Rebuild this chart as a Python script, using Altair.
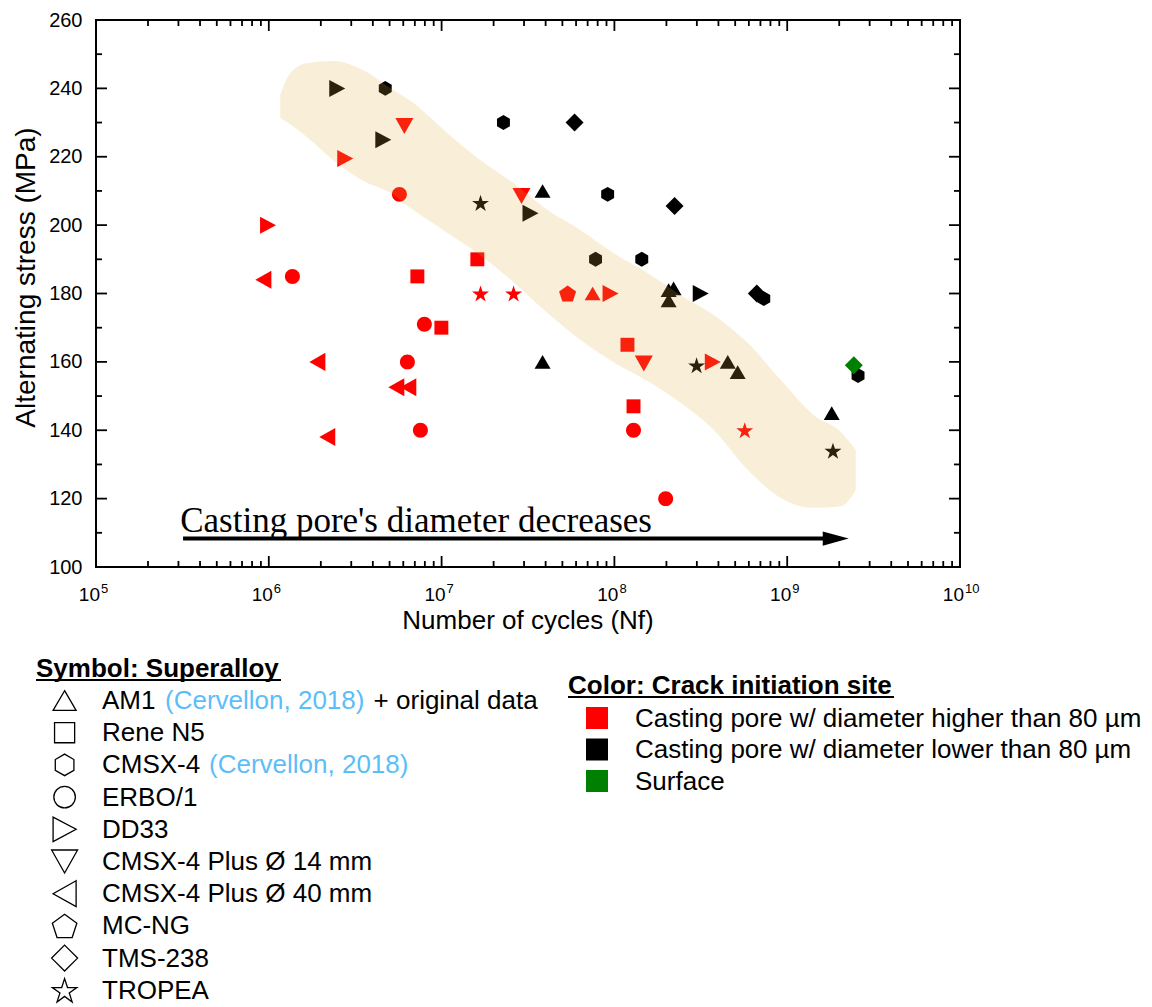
import altair as alt
import pandas as pd

# ---------------- data ----------------
alloys = ["AM1", "Rene N5", "CMSX-4", "ERBO/1", "DD33", "CMSX-4 Plus Ø 14 mm",
          "CMSX-4 Plus Ø 40 mm", "MC-NG", "TMS-238", "TROPEA"]
sites = ["Casting pore w/ diameter higher than 80 µm",
         "Casting pore w/ diameter lower than 80 µm",
         "Surface"]

# site code: 0 = pore > 80 µm, 1 = pore < 80 µm, 2 = surface
am1_cycles = [3.84e7, 3.84e7, 7.48e7, 2.06e8, 2.2e8, 2.06e8, 4.53e8, 5.17e8, 1.81e9]
am1_stress = [210, 160, 180, 181, 181.5, 178, 160, 157, 145]
am1_site = [1, 1, 0, 1, 1, 1, 1, 1, 1]

rene_cycles = [1.61e7, 7.24e6, 9.97e6, 1.19e8, 1.29e8]
rene_stress = [190, 185, 170, 165, 147]
rene_site = [0, 0, 0, 0, 0]

cmsx4_cycles = [4.72e6, 2.28e7, 9.14e7, 7.78e7, 1.44e8, 7.32e8, 2.57e9]
cmsx4_stress = [240, 230, 209, 190, 190, 178.5, 156]
cmsx4_site = [1, 1, 1, 1, 1, 1, 1]

erbo_cycles = [1.37e6, 5.7e6, 7.95e6, 6.34e6, 7.54e6, 1.29e8, 1.98e8]
erbo_stress = [185, 209, 171, 160, 140, 140, 120]
erbo_site = [0, 0, 0, 0, 0, 0, 0]

dd33_cycles = [2.49e6, 4.6e6, 2.77e6, 9.9e5, 3.27e7, 9.5e7, 3.16e8, 3.71e8]
dd33_stress = [240, 225, 219.5, 200, 203.5, 180, 180, 160]
dd33_site = [1, 1, 0, 0, 1, 0, 1, 0]

plus14_cycles = [6.09e6, 2.9e7, 1.48e8]
plus14_stress = [229, 208.5, 159.5]
plus14_site = [0, 0, 0]

plus40_cycles = [9.3e5, 1.91e6, 5.47e6, 6.42e6, 2.18e6]
plus40_stress = [184, 160, 152.6, 152.6, 138]
plus40_site = [0, 0, 0, 0, 0]

mcng_cycles = [5.36e7]
mcng_stress = [180]
mcng_site = [0]

tms_cycles = [5.88e7, 2.23e8, 6.67e8, 2.43e9]
tms_stress = [230, 205.6, 180, 159]
tms_site = [1, 1, 1, 2]

tropea_cycles = [1.68e7, 1.68e7, 2.61e7, 2.99e8, 5.68e8, 1.84e9]
tropea_stress = [206.5, 180, 180, 159, 140, 134]
tropea_site = [1, 0, 0, 1, 0, 1]

# shaded trend band (log10 cycles, upper / lower stress)
band_log_cycles = [6.066, 6.124, 6.222, 6.373, 6.547, 6.703, 6.837, 7.034, 7.225, 7.416, 7.613,
                   7.804, 7.995, 8.192, 8.384, 8.575, 8.772, 8.963, 9.154, 9.311, 9.397]
band_upper = [238.0, 244.4, 247.4, 248.0, 245.3, 240.1, 235.7, 226.9, 219.0, 212.3, 204.4,
              198.5, 191.8, 186.0, 179.5, 173.7, 165.5, 154.7, 144.4, 139.5, 134.2]
band_lower = [231.3, 229.5, 225.7, 219.0, 212.9, 209.4, 204.4, 197.7, 191.2, 183.3, 174.3,
              166.4, 159.9, 154.4, 148.0, 140.1, 128.4, 120.2, 117.3, 117.8, 122.5]

# annotation arrow (tail, shaft end, tip) and text
arrow_cycles = [3.19e5, 1.8e9, 2.27e9]
arrow_stress = 108.3
note_text = "Casting pore's diameter decreases"
note_cycles = 3.07e5
note_stress = 110.3

# axes
y_major = [100, 120, 140, 160, 180, 200, 220, 240, 260]
y_minor = [110, 130, 150, 170, 190, 210, 230, 250]
x_major_exp = [5, 6, 7, 8, 9, 10]
x_minor_mult = [2, 3, 4, 5, 6, 7, 8, 9]

ref_text = "(Cervellon, 2018)"

# ---------------- styles / layout ----------------
W, H = 864, 547
site_colors = ["#ff0000", "#000000", "#008000"]
shape_paths = [
    "M0,-0.8L0.94,0.8L-0.94,0.8Z",
    "M-0.82,-0.82L0.82,-0.82L0.82,0.82L-0.82,0.82Z",
    "M0,-0.88L0.76,-0.44L0.76,0.44L0,0.88L-0.76,0.44L-0.76,-0.44Z",
    "M-0.88,0A0.88,0.88,0,1,0,0.88,0A0.88,0.88,0,1,0,-0.88,0Z",
    "M-0.94,-1L0.94,0L-0.94,1Z",
    "M-1.06,-0.94L1.06,-0.94L0,0.94Z",
    "M0.94,-1.06L-0.94,0L0.94,1.06Z",
    "M0,-0.95L1,-0.224L0.617,0.95L-0.617,0.95L-1,-0.224Z",
    "M0,-1.06L1.06,0L0,1.06L-1.06,0Z",
    "M0,-0.95L0.235,-0.224L0.999,-0.224L0.38,0.224L0.617,0.949L0,0.5L-0.617,0.949L-0.38,0.224L-0.999,-0.224L-0.235,-0.224Z",
]
SANS = "Liberation Sans"
SERIF = "Liberation Serif"

xs = alt.Scale(type="log", domain=[1e5, 1e10], nice=False)
ys = alt.Scale(domain=[100, 260], zero=False, nice=False)
shape_scale = alt.Scale(domain=alloys, range=shape_paths)
color_scale = alt.Scale(domain=sites, range=site_colors)
y_axis = alt.Axis(values=y_major, ticks=False, domain=False, grid=False,
                  labelFontSize=20, labelPadding=14, labelColor="black", labelFont=SANS,
                  title="Alternating stress (MPa)", titleFontSize=28, titleFontWeight="normal",
                  titleColor="black", titleFont=SANS, titleAngle=270, titleBaseline="bottom",
                  titleAlign="center", titleX=-56, titleY=257)

series = [
    ("AM1", am1_cycles, am1_stress, am1_site),
    ("Rene N5", rene_cycles, rene_stress, rene_site),
    ("CMSX-4", cmsx4_cycles, cmsx4_stress, cmsx4_site),
    ("ERBO/1", erbo_cycles, erbo_stress, erbo_site),
    ("DD33", dd33_cycles, dd33_stress, dd33_site),
    ("CMSX-4 Plus Ø 14 mm", plus14_cycles, plus14_stress, plus14_site),
    ("CMSX-4 Plus Ø 40 mm", plus40_cycles, plus40_stress, plus40_site),
    ("MC-NG", mcng_cycles, mcng_stress, mcng_site),
    ("TMS-238", tms_cycles, tms_stress, tms_site),
    ("TROPEA", tropea_cycles, tropea_stress, tropea_site),
]
rows = []
for name, ns, ss, cs in series:
    for n, s, c in zip(ns, ss, cs):
        rows.append({"alloy": name, "N": n, "S": s, "site": sites[c]})
pts = pd.DataFrame(rows)

X = lambda f: alt.X(f, scale=xs, axis=None)
Y = lambda f: alt.Y(f, scale=ys, axis=y_axis)

layers = []

# data points
layers.append(
    alt.Chart(pts).mark_point(filled=True, opacity=1, size=289, strokeWidth=0).encode(
        x=X("N:Q"), y=Y("S:Q"),
        shape=alt.Shape("alloy:N", scale=shape_scale, legend=None),
        color=alt.Color("site:N", scale=color_scale, legend=None),
    )
)

# translucent band drawn on top
band_df = pd.DataFrame({"N": [10 ** e for e in band_log_cycles],
                        "upper": band_upper, "lower": band_lower})
layers.append(
    alt.Chart(band_df).mark_area(color="#E1AA3C", opacity=0.2, interpolate="monotone").encode(
        x=X("N:Q"), y=Y("upper:Q"), y2="lower:Q"
    )
)

# inward ticks
ymaj = pd.DataFrame({"v": y_major})
ymin = pd.DataFrame({"v": y_minor})
xmaj = pd.DataFrame({"v": [10.0 ** e for e in x_major_exp]})
xmin = pd.DataFrame({"v": [m * 10.0 ** e for e in x_major_exp[:-1] for m in x_minor_mult]})
for df, ln in ((ymaj, 11), (ymin, 6)):
    layers.append(alt.Chart(df).mark_rule(color="black", strokeWidth=1.8).encode(
        y=Y("v:Q"), x=alt.value(0), x2=alt.value(ln)))
    layers.append(alt.Chart(df).mark_rule(color="black", strokeWidth=1.8).encode(
        y=Y("v:Q"), x=alt.value(W - ln), x2=alt.value(W)))
for df, ln in ((xmaj, 11), (xmin, 6)):
    layers.append(alt.Chart(df).mark_rule(color="black", strokeWidth=1.8).encode(
        x=X("v:Q"), y=alt.value(H), y2=alt.value(H - ln)))
    layers.append(alt.Chart(df).mark_rule(color="black", strokeWidth=1.8).encode(
        x=X("v:Q"), y=alt.value(0), y2=alt.value(ln)))

# x tick labels 10^n
xt = pd.DataFrame({"N": [10.0 ** e for e in x_major_exp], "base": ["10"] * len(x_major_exp),
                   "exp": [str(e) for e in x_major_exp]})
layers.append(alt.Chart(xt).mark_text(align="right", baseline="alphabetic", fontSize=19, dx=4,
                                      font=SANS, color="black").encode(
    x=X("N:Q"), y=alt.value(H + 34), text="base:N"))
layers.append(alt.Chart(xt).mark_text(align="left", baseline="alphabetic", fontSize=13, dx=5,
                                      font=SANS, color="black").encode(
    x=X("N:Q"), y=alt.value(H + 26), text="exp:N"))

# annotation arrow + text
layers.append(alt.Chart(pd.DataFrame({"a": [arrow_cycles[0]], "b": [arrow_cycles[1]], "S": [arrow_stress]}))
              .mark_rule(color="black", strokeWidth=4).encode(x=X("a:Q"), x2="b:Q", y=Y("S:Q")))
layers.append(alt.Chart(pd.DataFrame({"N": [arrow_cycles[2]], "S": [arrow_stress]}))
              .mark_point(shape="M-2,-0.55L0,0L-2,0.55Z", filled=True, color="black", opacity=1,
                          size=676, strokeWidth=0).encode(x=X("N:Q"), y=Y("S:Q")))
layers.append(alt.Chart(pd.DataFrame({"N": [note_cycles], "S": [note_stress], "t": [note_text]}))
              .mark_text(align="left", baseline="alphabetic", font=SERIF, fontSize=35, color="black")
              .encode(x=X("N:Q"), y=Y("S:Q"), text="t:N"))


def txt(s, x, y, size=26, color="black", weight="normal", align="left", baseline="alphabetic", font=SANS):
    return alt.Chart(pd.DataFrame({"t": [s]})).mark_text(
        align=align, baseline=baseline, fontSize=size, fontWeight=weight, color=color, font=font
    ).encode(text="t:N", x=alt.value(x), y=alt.value(y))


def hline(x1, x2, y, w=2):
    return alt.Chart(pd.DataFrame({"k": [0]})).mark_rule(color="black", strokeWidth=w).encode(
        x=alt.value(x1), x2=alt.value(x2), y=alt.value(y))


# x axis title
layers.append(txt("Number of cycles (Nf)", W / 2, H + 62, align="center"))

# ---- symbol legend ----
LX, L_SYM, L_TXT = -60, -31.4, 6
layers.append(txt("Symbol: Superalloy", LX, 657, weight="bold"))
layers.append(hline(LX, LX + 245, 660))
ref_x = {"AM1": 69, "CMSX-4": 113}
extra = {"AM1": ("+ original data", 277.6)}
ROW = 32.2
for i, a in enumerate(alloys):
    yc = 680.5 + ROW * i
    yb = 689 + ROW * i
    layers.append(alt.Chart(pd.DataFrame({"alloy": [a]})).mark_point(
        filled=False, color="black", opacity=1, size=600, strokeWidth=1.3).encode(
        shape=alt.Shape("alloy:N", scale=shape_scale, legend=None),
        x=alt.value(L_SYM), y=alt.value(yc)))
    layers.append(txt(a, L_TXT, yb))
    if a in ref_x:
        layers.append(txt(ref_text, ref_x[a], yb, color="#5BBEF8"))
    if a in extra:
        layers.append(txt(extra[a][0], extra[a][1], yb))

# ---- color legend ----
CX, C_SQ, C_TXT = 472, 501, 539
layers.append(txt("Color: Crack initiation site", CX, 674, weight="bold"))
layers.append(hline(CX, CX + 326, 677))
for i, s in enumerate(sites):
    yc = 698 + 31.5 * i
    layers.append(alt.Chart(pd.DataFrame({"site": [s]})).mark_point(
        shape="square", filled=True, opacity=1, size=484, strokeWidth=0).encode(
        color=alt.Color("site:N", scale=color_scale, legend=None),
        x=alt.value(C_SQ), y=alt.value(yc)))
    layers.append(txt(s, C_TXT, yc + 8.5, size=26))

chart = alt.layer(*layers).properties(
    width=W, height=H,
    padding={"left": 88, "top": 12, "right": 184, "bottom": 440},
    autosize=alt.AutoSizeParams(type="none"),
).configure(font=SANS).configure_view(stroke="black", strokeWidth=2)

chart.save("out.html", embed_options={"renderer": "svg", "actions": False})
